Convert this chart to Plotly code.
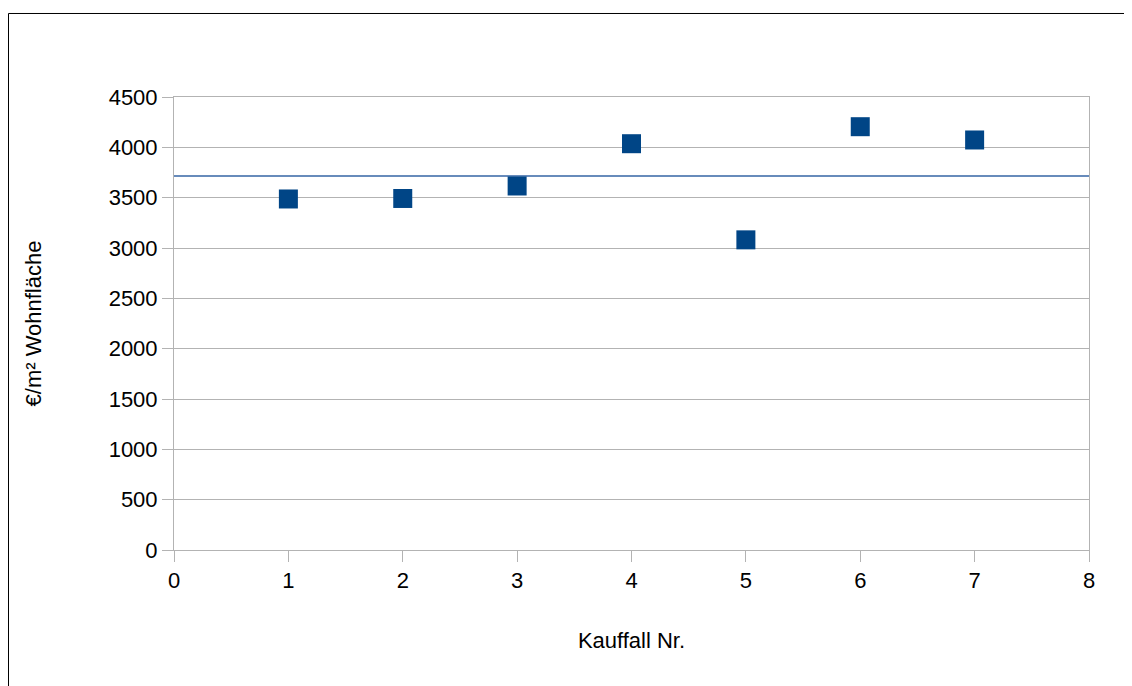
import plotly.graph_objects as go

# Data
kauffall = [1, 2, 3, 4, 5, 6, 7]
preis_qm = [3487, 3492, 3616, 4036, 3081, 4205, 4073]
mittelwert = 3715
x_range = [0, 8]
y_range = [0, 4500]

FONT = "Liberation Sans, Arial, sans-serif"

fig = go.Figure()

# mean line across plot width
fig.add_trace(go.Scatter(
    x=x_range, y=[mittelwert, mittelwert], mode="lines",
    line=dict(color="#3465a4", width=1.3), hoverinfo="skip", showlegend=False,
))

fig.add_trace(go.Scatter(
    x=kauffall, y=preis_qm, mode="markers",
    marker=dict(symbol="square", size=19, color="#004586", line=dict(width=0)),
    showlegend=False,
))

axis_common = dict(
    showline=True, linecolor="#b3b3b3", linewidth=1, mirror=True,
    ticks="outside", ticklen=11, tickcolor="#b3b3b3", tickwidth=1,
    tickfont=dict(family=FONT, size=22, color="#000000"),
    zeroline=False,
)

fig.update_xaxes(
    range=x_range, dtick=1, tick0=0, showgrid=False,
    title=dict(text="Kauffall Nr.", font=dict(family=FONT, size=22, color="#000000"), standoff=40),
    **axis_common,
)
fig.update_yaxes(
    range=y_range, dtick=500, tick0=0, showgrid=True, gridcolor="#b3b3b3", gridwidth=1,
    title=dict(text="€/m² Wohnfläche", font=dict(family=FONT, size=22, color="#000000"), standoff=60),
    **axis_common,
)

# outer border
fig.add_shape(type="rect", xref="paper", yref="paper",
              x0=-0.18087, x1=1.2, y0=-0.5, y1=1.18433,
              line=dict(color="#000000", width=1), fillcolor="rgba(0,0,0,0)", layer="above")

fig.update_layout(
    width=1132, height=686,
    margin=dict(l=166, r=51, t=89, b=144),
    paper_bgcolor="white", plot_bgcolor="white",
    font=dict(family=FONT, color="#000000"),
)

fig.write_html("out.html")
